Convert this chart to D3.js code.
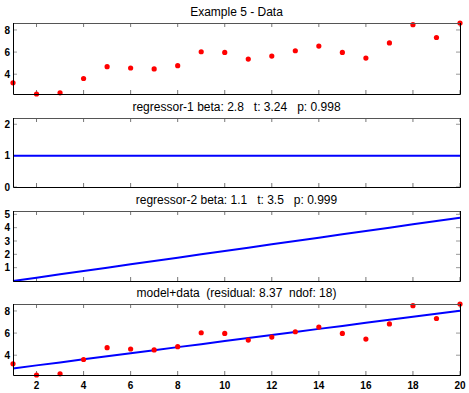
<!DOCTYPE html>
<html>
<head>
<meta charset="utf-8">
<script src="https://cdn.jsdelivr.net/npm/d3@7"></script>
<style>
  body { margin: 0; background: #fff; }
  text { font-family: "Liberation Sans", Arial, sans-serif; white-space: pre; }
</style>
</head>
<body>
<div id="chart"></div>
<script>
// values
const xs = [1, 2, 3, 4, 5, 6, 7, 8, 9, 10, 11, 12, 13, 14, 15, 16, 17, 18, 19, 20];
const dataY = [3.22, 2.21, 2.32, 3.61, 4.68, 4.56, 4.48, 4.77, 6.03, 5.97,
               5.37, 5.64, 6.12, 6.54, 5.97, 5.46, 6.83, 8.48, 7.32, 8.63];
const regressor1 = [1, 1, 1, 1, 1, 1, 1, 1, 1, 1, 1, 1, 1, 1, 1, 1, 1, 1, 1, 1];
const regressor2 = [0, 0.25, 0.5, 0.75, 1, 1.25, 1.5, 1.75, 2, 2.25,
                    2.5, 2.75, 3, 3.25, 3.5, 3.75, 4, 4.25, 4.5, 4.75];
const modelY = [2.80, 3.08, 3.35, 3.63, 3.90, 4.18, 4.45, 4.73, 5.00, 5.28,
                5.55, 5.83, 6.10, 6.38, 6.65, 6.93, 7.20, 7.48, 7.75, 8.03];
const xTicks = [2, 4, 6, 8, 10, 12, 14, 16, 18, 20];
const titles = [
  "Example 5 - Data",
  "regressor-1 beta: 2.8   t: 3.24   p: 0.998",
  "regressor-2 beta: 1.1   t: 3.5   p: 0.999",
  "model+data  (residual: 8.37  ndof: 18)"
];

const W = 469, H = 393;
const left = 13, right = 460;

const svg = d3.select("#chart").append("svg")
  .attr("width", W).attr("height", H);

const x = d3.scaleLinear().domain([1, 20]).range([left, right]);

const dataExtent = d3.extent(dataY);

const panels = [
  { top: 23, bottom: 94, domain: dataExtent, ticks: [4, 6, 8], dots: dataY },
  { top: 118, bottom: 187, domain: [0, 2.2], ticks: [0, 1, 2], line: regressor1 },
  { top: 211, bottom: 281, domain: [0, 5.25], ticks: [1, 2, 3, 4, 5], line: regressor2 },
  { top: 304, bottom: 375, domain: dataExtent, ticks: [4, 6, 8], dots: dataY, line: modelY, xLabels: true }
];

panels.forEach((p, i) => {
  const y = d3.scaleLinear().domain(p.domain).range([p.bottom, p.top]);
  const g = svg.append("g");

  // title
  g.append("text")
    .attr("x", (left + right) / 2)
    .attr("y", p.top - 7)
    .attr("text-anchor", "middle")
    .attr("xml:space", "preserve")
    .style("font-size", "12px")
    .text(titles[i]);

  // ticks, pointing inward, on all four sides
  const tk = 4;
  g.selectAll(".xt").data(xTicks).join("line")
    .attr("x1", d => x(d)).attr("x2", d => x(d))
    .attr("y1", p.bottom).attr("y2", p.bottom - tk)
    .attr("stroke", "#777");
  g.selectAll(".xt2").data(xTicks).join("line")
    .attr("x1", d => x(d)).attr("x2", d => x(d))
    .attr("y1", p.top).attr("y2", p.top + tk)
    .attr("stroke", "#777");
  g.selectAll(".yt").data(p.ticks).join("line")
    .attr("x1", left).attr("x2", left + tk)
    .attr("y1", d => y(d)).attr("y2", d => y(d))
    .attr("stroke", "#999");
  g.selectAll(".yt2").data(p.ticks).join("line")
    .attr("x1", right).attr("x2", right - tk)
    .attr("y1", d => y(d)).attr("y2", d => y(d))
    .attr("stroke", "#999");

  // y tick labels
  g.selectAll(".yl").data(p.ticks).join("text")
    .attr("x", left - 3)
    .attr("y", d => y(d))
    .attr("dy", "0.36em")
    .attr("text-anchor", "end")
    .style("font-size", "10px")
    .style("font-weight", "bold")
    .text(d => d);

  if (p.xLabels) {
    g.selectAll(".xl").data(xTicks).join("text")
      .attr("x", d => x(d))
      .attr("y", p.bottom + 14)
      .attr("text-anchor", "middle")
      .style("font-size", "10px")
      .style("font-weight", "bold")
      .text(d => d);
  }

  // series
  if (p.line) {
    g.append("path")
      .datum(p.line)
      .attr("fill", "none")
      .attr("stroke", "#0000ff")
      .attr("stroke-width", 2)
      .attr("d", d3.line().x((d, j) => x(xs[j])).y(d => y(d)));
  }
  if (p.dots) {
    g.selectAll(".dot").data(p.dots).join("circle")
      .attr("cx", (d, j) => x(xs[j]))
      .attr("cy", d => y(d))
      .attr("r", 2.6)
      .attr("fill", "#ff0000");
  }

  // box
  g.append("line").attr("x1", left).attr("x2", right)
    .attr("y1", p.top + 0.5).attr("y2", p.top + 0.5).attr("stroke", "#555");
  g.append("path")
    .attr("d", `M${left + 0.5},${p.top}V${p.bottom + 0.5}H${right + 0.5}V${p.top}`)
    .attr("fill", "none")
    .attr("stroke", "#000");
});
</script>
</body>
</html>
